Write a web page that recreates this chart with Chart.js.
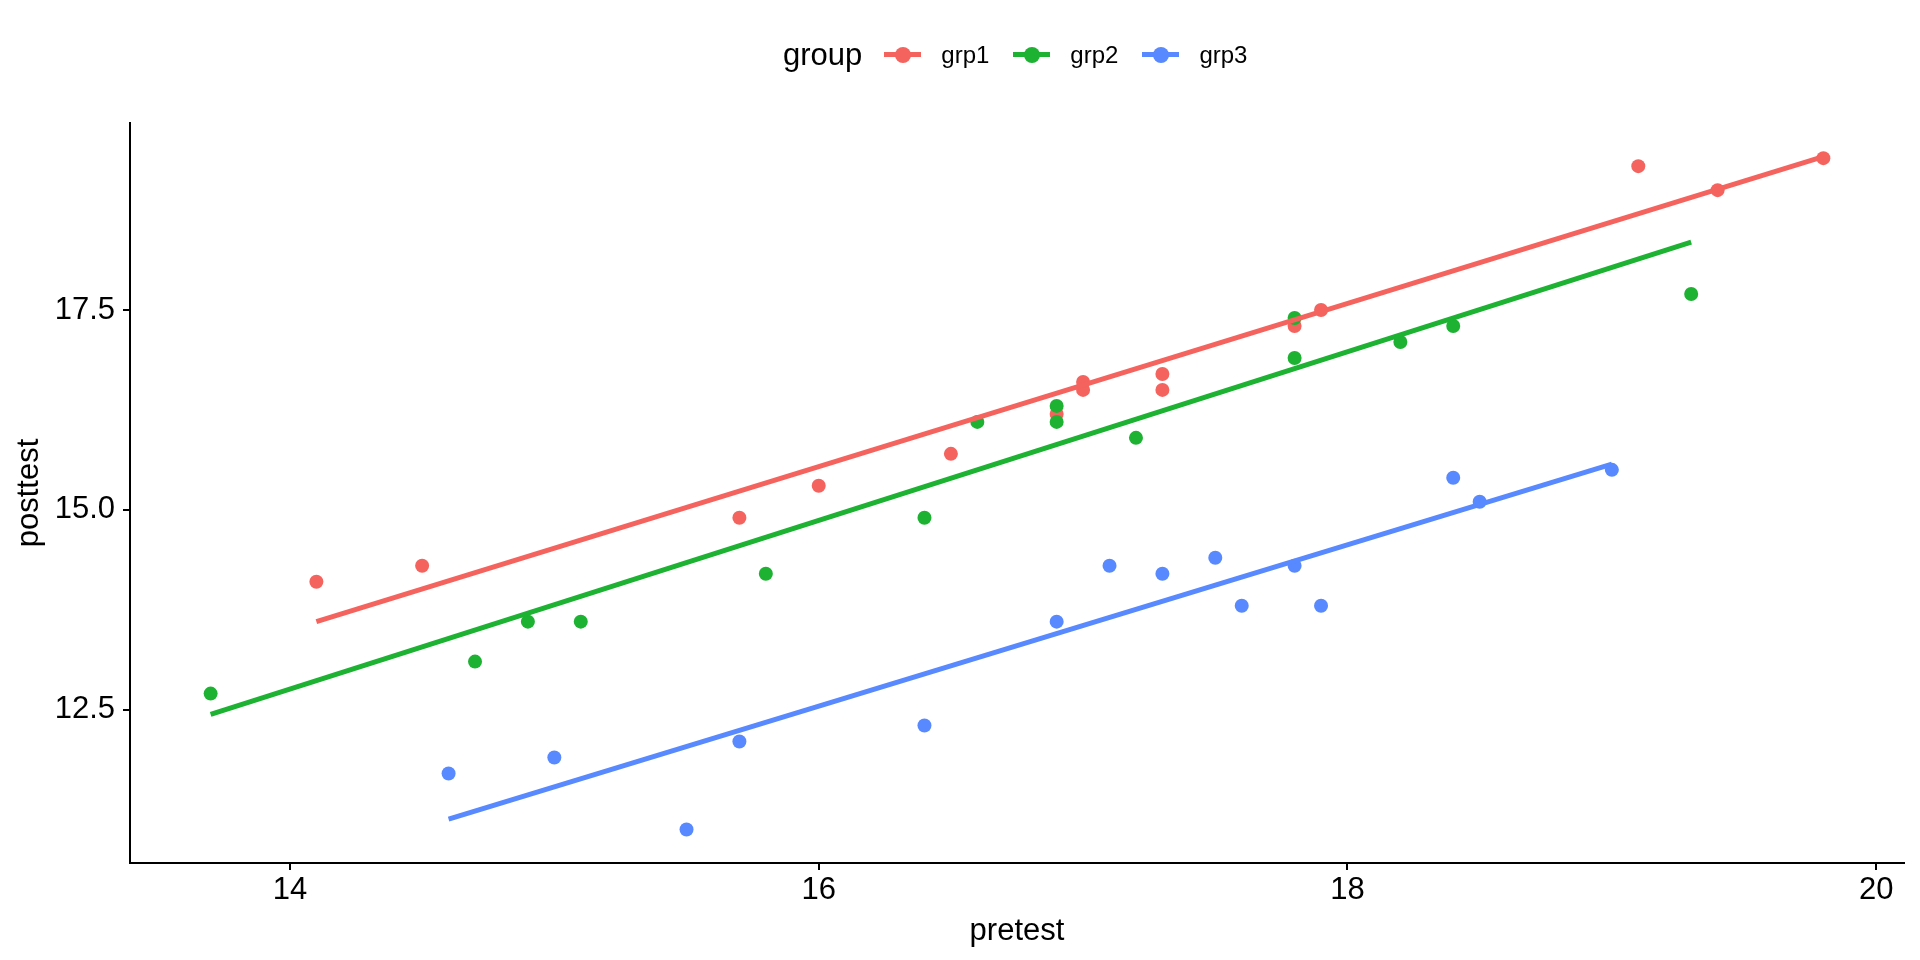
<!DOCTYPE html>
<html>
<head>
<meta charset="utf-8">
<script src="https://cdn.jsdelivr.net/npm/chart.js@4"></script>
<style>
  body { margin: 0; background: #fff; font-family: "Liberation Sans", Arial, sans-serif; }
  #wrap { position: relative; width: 1920px; height: 960px; }
  #legend { position: absolute; top: 35px; left: 783px; height: 40px; display: flex; align-items: center; white-space: nowrap; }
  #legend .ttl { font-size: 31px; margin-right: 22px; }
  #legend .item { display: flex; align-items: center; font-size: 24px; margin-right: 24px; }
  #legend .key { position: relative; width: 37px; height: 40px; margin-right: 20px; }
  #legend .key i { position: absolute; left: 0; right: 0; top: 17px; height: 5px; }
  #legend .key b { position: absolute; left: 10.5px; top: 11.5px; width: 16px; height: 16px; border-radius: 8px; }
</style>
</head>
<body>
<div id="wrap">
  <canvas id="myChart" width="1920" height="960"></canvas>
  <div id="legend"><span class="ttl">group</span></div>
</div>
<script>
// 데이터
const groups = ['grp1', 'grp2', 'grp3'];
const colors = ['#F5635E', '#1DB232', '#5889FF'];

const grp1Pre  = [14.1, 14.5, 15.7, 16.0, 16.5, 16.9, 17.0, 17.0, 17.3, 17.3, 17.8, 17.9, 19.1, 19.4, 19.8];
const grp1Post = [14.1, 14.3, 14.9, 15.3, 15.7, 16.2, 16.6, 16.5, 16.7, 16.5, 17.3, 17.5, 19.3, 19.0, 19.4];

const grp2Pre  = [13.7, 14.7, 14.9, 15.1, 15.8, 16.4, 16.6, 16.9, 16.9, 17.2, 17.8, 17.8, 18.2, 18.4, 19.3];
const grp2Post = [12.7, 13.1, 13.6, 13.6, 14.2, 14.9, 16.1, 16.3, 16.1, 15.9, 17.4, 16.9, 17.1, 17.3, 17.7];

const grp3Pre  = [14.6, 15.0, 15.5, 15.7, 16.4, 16.9, 17.1, 17.3, 17.5, 17.6, 17.8, 17.9, 18.4, 18.5, 19.0];
const grp3Post = [11.7, 11.9, 11.0, 12.1, 12.3, 13.6, 14.3, 14.2, 14.4, 13.8, 14.3, 13.8, 15.4, 15.1, 15.5];

// 회귀선 양 끝점
const fitPre  = [[14.1, 19.8], [13.7, 19.3], [14.6, 19.0]];
const fitPost = [[13.60, 19.42], [12.44, 18.35], [11.13, 15.57]];

const xTicks = [14, 16, 18, 20];
const yTicks = [12.5, 15.0, 17.5];

const pre = [grp1Pre, grp2Pre, grp3Pre];
const post = [grp1Post, grp2Post, grp3Post];

function pts(xs, ys) {
    return xs.map((x, i) => ({x: x, y: ys[i]}));
}

let datasets = [];
groups.forEach((g, k) => {
    datasets.push({
        type: 'scatter',
        label: g,
        data: pts(pre[k], post[k]),
        backgroundColor: colors[k],
        borderColor: colors[k],
        pointRadius: 7,
        pointHoverRadius: 7,
        borderWidth: 0,
        order: 3 + (2 - k)
    });
    datasets.push({
        type: 'line',
        label: g + ' fit',
        data: pts(fitPre[k], fitPost[k]),
        borderColor: colors[k],
        borderWidth: 5,
        pointRadius: 0,
        fill: false,
        order: 0
    });
});

// 범례
const legend = document.getElementById('legend');
groups.forEach((g, k) => {
    let d = document.createElement('span');
    d.className = 'item';
    d.innerHTML = '<span class="key"><i style="background:' + colors[k] + '"></i><b style="background:' + colors[k] + '"></b></span>' + g;
    legend.appendChild(d);
});

const axisFont = {family: '"Liberation Sans", Arial, sans-serif', size: 31};

var ctx = document.getElementById('myChart').getContext('2d');
var myChart = new Chart(ctx, {
    data: {datasets: datasets},
    options: {
        responsive: false,
        animation: false,
        devicePixelRatio: 1,
        layout: {padding: {top: 123, right: 16, left: 0, bottom: 0}},
        plugins: {legend: {display: false}, tooltip: {enabled: false}},
        scales: {
            x: {
                type: 'linear',
                min: 13.395,
                max: 20.105,
                afterBuildTicks: s => { s.ticks = xTicks.map(v => ({value: v})); },
                afterFit: s => { s.height = 97; },
                border: {color: '#000', width: 2},
                grid: {drawOnChartArea: false, drawTicks: true, tickLength: 7, color: '#000', lineWidth: 2},
                ticks: {color: '#000', font: axisFont, padding: 2},
                title: {display: true, text: 'pretest', color: '#000', font: axisFont, padding: {top: 0, bottom: 10}}
            },
            y: {
                type: 'linear',
                min: 10.58,
                max: 19.84,
                afterBuildTicks: s => { s.ticks = yTicks.map(v => ({value: v})); },
                afterFit: s => { s.width = 130; },
                border: {color: '#000', width: 2},
                grid: {drawOnChartArea: false, drawTicks: true, tickLength: 7, color: '#000', lineWidth: 2},
                ticks: {color: '#000', font: axisFont, padding: 8, callback: v => v.toFixed(1)},
                title: {display: true, text: 'posttest', color: '#000', font: axisFont, padding: {top: 11, bottom: 0}}
            }
        }
    }
});
</script>
</body>
</html>
